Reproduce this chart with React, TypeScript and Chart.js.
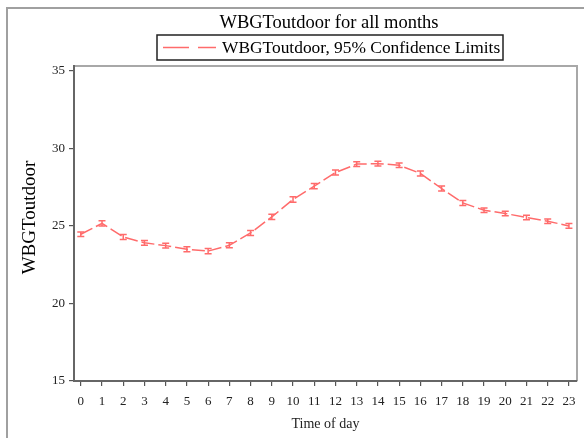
import React, { useEffect, useRef } from "react";
import { Chart, registerables } from "chart.js";

Chart.register(...registerables);

const hours = [0, 1, 2, 3, 4, 5, 6, 7, 8, 9, 10, 11, 12, 13, 14, 15, 16, 17, 18, 19, 20, 21, 22, 23];
const wbgt = [24.45, 25.15, 24.28, 23.9, 23.72, 23.48, 23.37, 23.74, 24.54, 25.57, 26.69, 27.55, 28.43, 28.97, 29.0, 28.9, 28.37, 27.4, 26.47, 26.0, 25.79, 25.53, 25.29, 24.99];
const lower = [24.3, 24.98, 24.12, 23.75, 23.57, 23.32, 23.2, 23.58, 24.38, 25.4, 26.52, 27.38, 28.27, 28.82, 28.85, 28.75, 28.21, 27.24, 26.31, 25.85, 25.64, 25.38, 25.14, 24.84];
const upper = [24.6, 25.32, 24.44, 24.05, 23.87, 23.64, 23.54, 23.9, 24.7, 25.74, 26.86, 27.72, 28.59, 29.12, 29.15, 29.05, 28.53, 27.56, 26.63, 26.15, 25.94, 25.68, 25.44, 25.14];
const yTicks = [15, 20, 25, 30, 35];

const titleText = "WBGToutdoor for all months";
const legendText = "WBGToutdoor, 95% Confidence Limits";
const yTitle = "WBGToutdoor";
const xTitle = "Time of day";

const RED = "#ff6b6b";
const SERIF = "'Liberation Serif', 'Times New Roman', serif";

const decorPlugin = {
  id: "decor",
  beforeDraw(chart: any) {
    const ctx = chart.ctx;
    const a = chart.chartArea;
    ctx.save();
    ctx.fillStyle = "#fff";
    ctx.fillRect(0, 0, chart.width, chart.height);
    // outer border
    ctx.strokeStyle = "#a0a0a0";
    ctx.lineWidth = 2;
    ctx.beginPath();
    ctx.moveTo(7, chart.height);
    ctx.lineTo(7, 8);
    ctx.lineTo(chart.width, 8);
    ctx.stroke();
    // frame top/right
    ctx.strokeStyle = "#a8a8a8";
    ctx.lineWidth = 2;
    ctx.beginPath();
    ctx.moveTo(a.left, a.top);
    ctx.lineTo(a.right, a.top);
    ctx.lineTo(a.right, a.bottom);
    ctx.stroke();
    ctx.restore();
  },
  afterDraw(chart: any) {
    const ctx = chart.ctx;
    const a = chart.chartArea;
    ctx.save();
    ctx.fillStyle = "#000";
    ctx.textBaseline = "alphabetic";
    // title
    ctx.font = `18.5px ${SERIF}`;
    ctx.textAlign = "center";
    ctx.fillText(titleText, 329, 27.5);
    // legend box
    ctx.strokeStyle = "#222";
    ctx.lineWidth = 1.5;
    ctx.strokeRect(157, 35, 346, 25);
    ctx.strokeStyle = RED;
    ctx.lineWidth = 1.5;
    ctx.setLineDash([26, 9]);
    ctx.beginPath();
    ctx.moveTo(163, 47.5);
    ctx.lineTo(216, 47.5);
    ctx.stroke();
    ctx.setLineDash([]);
    ctx.fillStyle = "#000";
    ctx.font = `17.4px ${SERIF}`;
    ctx.textAlign = "left";
    ctx.fillText(legendText, 222, 52.5);
    // y title
    ctx.save();
    ctx.translate(35, 217.5);
    ctx.rotate(-Math.PI / 2);
    ctx.textAlign = "center";
    ctx.font = `19px ${SERIF}`;
    ctx.fillText(yTitle, 0, 0);
    ctx.restore();
    // x title
    ctx.font = `14px ${SERIF}`;
    ctx.textAlign = "center";
    ctx.textBaseline = "middle";
    ctx.fillStyle = "#222";
    ctx.fillText(xTitle, (a.left + a.right) / 2, 424);
    ctx.restore();
  },
};

const errorBarPlugin = {
  id: "errbars",
  afterDatasetsDraw(chart: any) {
    const ctx = chart.ctx;
    const xs = chart.scales.x;
    const ys = chart.scales.y;
    ctx.save();
    ctx.strokeStyle = RED;
    ctx.lineWidth = 1.5;
    for (let i = 0; i < hours.length; i++) {
      const px = xs.getPixelForValue(hours[i]);
      const pl = ys.getPixelForValue(lower[i]);
      const pu = ys.getPixelForValue(upper[i]);
      ctx.beginPath();
      ctx.moveTo(px, pl);
      ctx.lineTo(px, pu);
      ctx.moveTo(px - 3.5, pl);
      ctx.lineTo(px + 3.5, pl);
      ctx.moveTo(px - 3.5, pu);
      ctx.lineTo(px + 3.5, pu);
      ctx.stroke();
    }
    ctx.restore();
  },
};

export default function App() {
  const ref = useRef<HTMLCanvasElement | null>(null);
  useEffect(() => {
    if (!ref.current) return;
    const chart = new Chart(ref.current, {
      type: "line",
      data: {
        datasets: [
          {
            label: legendText,
            data: hours.map((h, i) => ({ x: h, y: wbgt[i] })),
            borderColor: RED,
            borderWidth: 1.5,
            borderDash: [13, 4],
            pointRadius: 0,
            tension: 0,
            fill: false,
          },
        ],
      },
      options: {
        animation: false,
        responsive: false,
        maintainAspectRatio: false,
        layout: { padding: { left: 0, top: 66, right: 7, bottom: 0 } },
        plugins: { legend: { display: false }, title: { display: false }, tooltip: { enabled: false } },
        scales: {
          x: {
            type: "linear",
            min: -0.32,
            max: 23.38,
            afterBuildTicks: (s: any) => {
              s.ticks = hours.map((h) => ({ value: h }));
            },
            afterFit: (s: any) => {
              s.height = 57;
            },
            grid: { drawOnChartArea: false, drawTicks: true, tickLength: 5, color: "#555", lineWidth: 1.2 },
            border: { display: true, color: "#666", width: 2 },
            ticks: {
              autoSkip: false,
              maxRotation: 0,
              padding: 8,
              color: "#222",
              font: { family: SERIF, size: 13 },
              callback: (v: any) => String(v),
            },
          },
          y: {
            type: "linear",
            min: 15,
            max: 35.29,
            afterBuildTicks: (s: any) => {
              s.ticks = yTicks.map((v) => ({ value: v }));
            },
            afterFit: (s: any) => {
              s.width = 74;
            },
            grid: { drawOnChartArea: false, drawTicks: true, tickLength: 5, color: "#555", lineWidth: 1.2 },
            border: { display: true, color: "#666", width: 2 },
            ticks: {
              padding: 4,
              color: "#222",
              font: { family: SERIF, size: 13 },
              callback: (v: any) => String(v),
            },
          },
        },
      },
      plugins: [decorPlugin, errorBarPlugin],
    });
    return () => chart.destroy();
  }, []);
  return (
    <div style={{ position: "fixed", left: 0, top: 0, width: 584, height: 438, background: "#fff" }}>
      <canvas ref={ref} width={584} height={438} style={{ display: "block" }} />
    </div>
  );
}
